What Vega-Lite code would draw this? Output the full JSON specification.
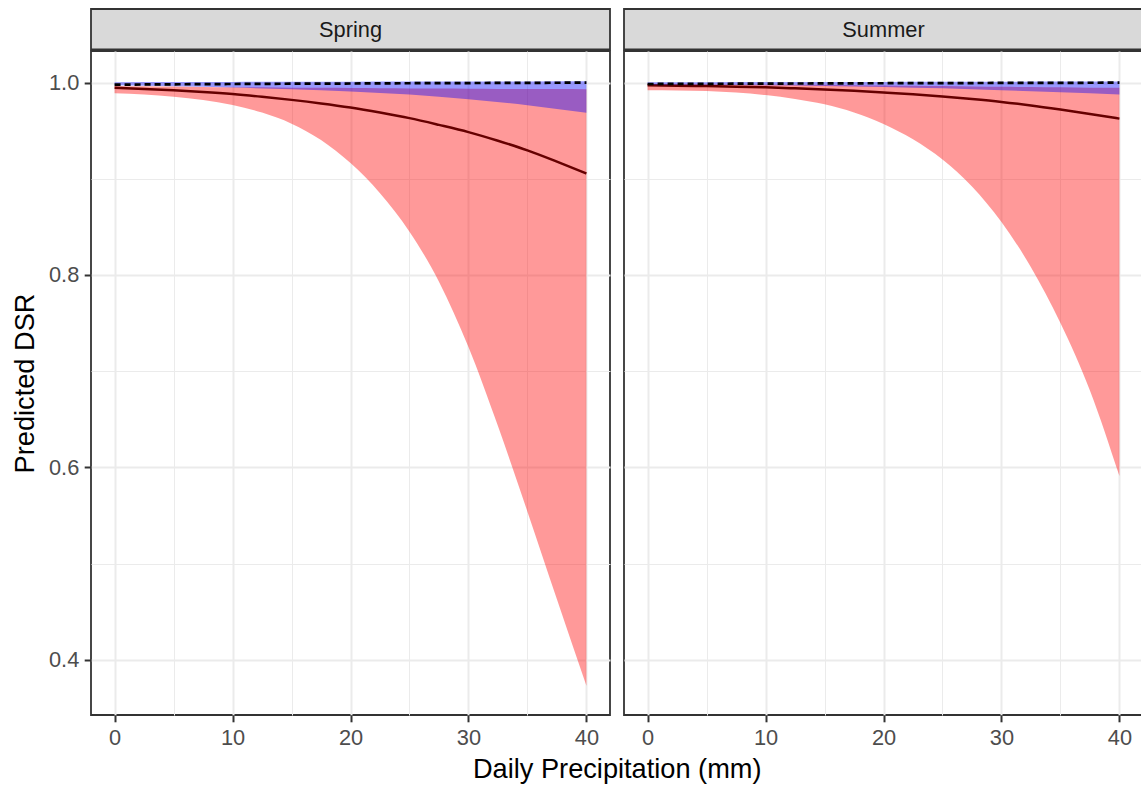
{
  "$schema": "https://vega.github.io/schema/vega-lite/v6.json",
  "background": "white",
  "padding": {"left": 10, "top": 8, "right": 0, "bottom": 0},
  "spacing": 12,
  "title": {"text": "Daily Precipitation (mm)", "orient": "bottom", "anchor": "middle", "frame": "bounds", "dx": 40, "offset": 7, "fontSize": 27.2, "fontWeight": "normal", "font": "Liberation Sans", "color": "#000000"},
  "datasets": {
    "dsr": [
      {"season": "Spring", "model": "A", "d": 0, "lo": 0.9888, "hi": 0.9965, "mean": 0.9945},
      {"season": "Spring", "model": "A", "d": 2.5, "lo": 0.9875, "hi": 0.9962, "mean": 0.9934},
      {"season": "Spring", "model": "A", "d": 5, "lo": 0.9853, "hi": 0.9958, "mean": 0.992},
      {"season": "Spring", "model": "A", "d": 7.5, "lo": 0.9818, "hi": 0.9955, "mean": 0.9902},
      {"season": "Spring", "model": "A", "d": 10, "lo": 0.9766, "hi": 0.9952, "mean": 0.988},
      {"season": "Spring", "model": "A", "d": 12.5, "lo": 0.9688, "hi": 0.995, "mean": 0.9852},
      {"season": "Spring", "model": "A", "d": 15, "lo": 0.9573, "hi": 0.9947, "mean": 0.982},
      {"season": "Spring", "model": "A", "d": 17.5, "lo": 0.9403, "hi": 0.9945, "mean": 0.9783},
      {"season": "Spring", "model": "A", "d": 20, "lo": 0.9163, "hi": 0.9943, "mean": 0.974},
      {"season": "Spring", "model": "A", "d": 22.5, "lo": 0.885, "hi": 0.9941, "mean": 0.9688},
      {"season": "Spring", "model": "A", "d": 25, "lo": 0.845, "hi": 0.9939, "mean": 0.963},
      {"season": "Spring", "model": "A", "d": 27.5, "lo": 0.793, "hi": 0.9937, "mean": 0.956},
      {"season": "Spring", "model": "A", "d": 30, "lo": 0.725, "hi": 0.9935, "mean": 0.9485},
      {"season": "Spring", "model": "A", "d": 32.5, "lo": 0.643, "hi": 0.9934, "mean": 0.9395},
      {"season": "Spring", "model": "A", "d": 35, "lo": 0.554, "hi": 0.9933, "mean": 0.9295},
      {"season": "Spring", "model": "A", "d": 37.5, "lo": 0.463, "hi": 0.9932, "mean": 0.9178},
      {"season": "Spring", "model": "A", "d": 40, "lo": 0.373, "hi": 0.993, "mean": 0.9055},
      {"season": "Spring", "model": "B", "d": 0, "lo": 0.9972, "hi": 1.0003, "mean": 0.9978},
      {"season": "Spring", "model": "B", "d": 5, "lo": 0.9962, "hi": 1.0005, "mean": 0.9982},
      {"season": "Spring", "model": "B", "d": 10, "lo": 0.9948, "hi": 1.0007, "mean": 0.9985},
      {"season": "Spring", "model": "B", "d": 15, "lo": 0.993, "hi": 1.0008, "mean": 0.9988},
      {"season": "Spring", "model": "B", "d": 20, "lo": 0.9908, "hi": 1.0009, "mean": 0.999},
      {"season": "Spring", "model": "B", "d": 25, "lo": 0.9875, "hi": 1.001, "mean": 0.9993},
      {"season": "Spring", "model": "B", "d": 30, "lo": 0.9827, "hi": 1.0011, "mean": 0.9995},
      {"season": "Spring", "model": "B", "d": 35, "lo": 0.9765, "hi": 1.0012, "mean": 0.9997},
      {"season": "Spring", "model": "B", "d": 40, "lo": 0.9685, "hi": 1.0013, "mean": 0.9999},
      {"season": "Summer", "model": "A", "d": 0, "lo": 0.992, "hi": 0.9985, "mean": 0.9972},
      {"season": "Summer", "model": "A", "d": 2.5, "lo": 0.9918, "hi": 0.9984, "mean": 0.9968},
      {"season": "Summer", "model": "A", "d": 5, "lo": 0.9912, "hi": 0.9983, "mean": 0.9963},
      {"season": "Summer", "model": "A", "d": 7.5, "lo": 0.9896, "hi": 0.9981, "mean": 0.9957},
      {"season": "Summer", "model": "A", "d": 10, "lo": 0.987, "hi": 0.998, "mean": 0.995},
      {"season": "Summer", "model": "A", "d": 12.5, "lo": 0.983, "hi": 0.9978, "mean": 0.994},
      {"season": "Summer", "model": "A", "d": 15, "lo": 0.9775, "hi": 0.9976, "mean": 0.9928},
      {"season": "Summer", "model": "A", "d": 17.5, "lo": 0.969, "hi": 0.9973, "mean": 0.9914},
      {"season": "Summer", "model": "A", "d": 20, "lo": 0.957, "hi": 0.997, "mean": 0.9897},
      {"season": "Summer", "model": "A", "d": 22.5, "lo": 0.941, "hi": 0.9967, "mean": 0.9878},
      {"season": "Summer", "model": "A", "d": 25, "lo": 0.92, "hi": 0.9963, "mean": 0.9855},
      {"season": "Summer", "model": "A", "d": 27.5, "lo": 0.892, "hi": 0.996, "mean": 0.9829},
      {"season": "Summer", "model": "A", "d": 30, "lo": 0.855, "hi": 0.9957, "mean": 0.9799},
      {"season": "Summer", "model": "A", "d": 32.5, "lo": 0.808, "hi": 0.9953, "mean": 0.9762},
      {"season": "Summer", "model": "A", "d": 35, "lo": 0.75, "hi": 0.995, "mean": 0.9719},
      {"season": "Summer", "model": "A", "d": 37.5, "lo": 0.68, "hi": 0.9947, "mean": 0.9673},
      {"season": "Summer", "model": "A", "d": 40, "lo": 0.591, "hi": 0.9945, "mean": 0.9625},
      {"season": "Summer", "model": "B", "d": 0, "lo": 0.998, "hi": 1.0003, "mean": 0.9985},
      {"season": "Summer", "model": "B", "d": 5, "lo": 0.9977, "hi": 1.0004, "mean": 0.9987},
      {"season": "Summer", "model": "B", "d": 10, "lo": 0.9972, "hi": 1.0005, "mean": 0.9989},
      {"season": "Summer", "model": "B", "d": 15, "lo": 0.9965, "hi": 1.0006, "mean": 0.9991},
      {"season": "Summer", "model": "B", "d": 20, "lo": 0.9955, "hi": 1.0007, "mean": 0.9993},
      {"season": "Summer", "model": "B", "d": 25, "lo": 0.994, "hi": 1.0008, "mean": 0.9994},
      {"season": "Summer", "model": "B", "d": 30, "lo": 0.992, "hi": 1.0009, "mean": 0.9996},
      {"season": "Summer", "model": "B", "d": 35, "lo": 0.99, "hi": 1.001, "mean": 0.9997},
      {"season": "Summer", "model": "B", "d": 40, "lo": 0.9876, "hi": 1.0011, "mean": 0.9999}
    ]
  },
  "hconcat": [
    {
      "spacing": -3,
      "vconcat": [
        {
          "width": 519,
          "height": 40.5,
          "view": {"fill": "#d9d9d9", "stroke": "#333333", "strokeWidth": 1.8},
          "data": {"values": [{"season": "Spring"}]},
          "mark": {"type": "text", "fontSize": 21.8, "color": "#1a1a1a", "font": "Liberation Sans", "dy": 1},
          "encoding": {"text": {"field": "season"}}
        },
        {
          "width": 519,
          "height": 664,
          "view": {"fill": "white", "stroke": "#333333", "strokeWidth": 1.8},
          "data": {"name": "dsr"},
          "transform": [{"filter": "datum.season === 'Spring'"}],
          "layer": [
            {
              "transform": [{"filter": "datum.model === 'A'"}],
              "mark": {"type": "area", "color": "#ff0000", "opacity": 0.4, "interpolate": "monotone"},
              "encoding": {
                "x": {
                  "field": "d", "type": "quantitative", "title": null,
                  "scale": {"domain": [-2, 42], "nice": false, "zero": false},
                  "axis": {
                    "values": [0, 5, 10, 15, 20, 25, 30, 35, 40],
                    "labelExpr": "datum.value % 10 === 0 ? datum.label : ''",
                    "gridWidth": {"condition": {"test": "datum.value % 10 === 0", "value": 2}, "value": 1},
                    "tickColor": {"condition": {"test": "datum.value % 10 === 0", "value": "#333333"}, "value": "transparent"}
                  }
                },
                "y": {
                  "field": "lo", "type": "quantitative", "title": "Predicted DSR",
                  "scale": {"domain": [0.3426, 1.0328], "nice": false, "zero": false},
                  "axis": {
                    "values": [0.4, 0.5, 0.6, 0.7, 0.8, 0.9, 1.0],
                    "titlePadding": 9,
                    "labelExpr": "round(datum.value * 10) % 2 === 0 ? format(datum.value, '.1f') : ''",
                    "gridWidth": {"condition": {"test": "round(datum.value * 10) % 2 === 0", "value": 2}, "value": 1},
                    "tickColor": {"condition": {"test": "round(datum.value * 10) % 2 === 0", "value": "#333333"}, "value": "transparent"}
                  }
                },
                "y2": {"field": "hi"}
              }
            },
            {
              "transform": [{"filter": "datum.model === 'A'"}],
              "mark": {"type": "line", "color": "#660000", "strokeWidth": 2.5, "interpolate": "monotone"},
              "encoding": {
                "x": {"field": "d", "type": "quantitative", "title": null},
                "y": {"field": "mean", "type": "quantitative", "title": "Predicted DSR"}
              }
            },
            {
              "transform": [{"filter": "datum.model === 'B'"}],
              "mark": {"type": "area", "color": "#0000ff", "opacity": 0.4, "interpolate": "monotone"},
              "encoding": {
                "x": {"field": "d", "type": "quantitative", "title": null},
                "y": {"field": "lo", "type": "quantitative", "title": "Predicted DSR"},
                "y2": {"field": "hi"}
              }
            },
            {
              "transform": [{"filter": "datum.model === 'B'"}],
              "mark": {"type": "line", "color": "#000000", "strokeWidth": 2.7, "strokeDash": [6, 4], "interpolate": "monotone"},
              "encoding": {
                "x": {"field": "d", "type": "quantitative", "title": null},
                "y": {"field": "mean", "type": "quantitative", "title": "Predicted DSR"}
              }
            }
          ]
        }
      ]
    },
    {
      "spacing": -3,
      "vconcat": [
        {
          "width": 519,
          "height": 40.5,
          "view": {"fill": "#d9d9d9", "stroke": "#333333", "strokeWidth": 1.8},
          "data": {"values": [{"season": "Summer"}]},
          "mark": {"type": "text", "fontSize": 21.8, "color": "#1a1a1a", "font": "Liberation Sans", "dy": 1},
          "encoding": {"text": {"field": "season"}}
        },
        {
          "width": 519,
          "height": 664,
          "view": {"fill": "white", "stroke": "#333333", "strokeWidth": 1.8},
          "data": {"name": "dsr"},
          "transform": [{"filter": "datum.season === 'Summer'"}],
          "layer": [
            {
              "transform": [{"filter": "datum.model === 'A'"}],
              "mark": {"type": "area", "color": "#ff0000", "opacity": 0.4, "interpolate": "monotone"},
              "encoding": {
                "x": {
                  "field": "d", "type": "quantitative", "title": null,
                  "scale": {"domain": [-2, 42], "nice": false, "zero": false},
                  "axis": {
                    "values": [0, 5, 10, 15, 20, 25, 30, 35, 40],
                    "labelExpr": "datum.value % 10 === 0 ? datum.label : ''",
                    "gridWidth": {"condition": {"test": "datum.value % 10 === 0", "value": 2}, "value": 1},
                    "tickColor": {"condition": {"test": "datum.value % 10 === 0", "value": "#333333"}, "value": "transparent"}
                  }
                },
                "y": {
                  "field": "lo", "type": "quantitative", "title": null,
                  "scale": {"domain": [0.3426, 1.0328], "nice": false, "zero": false},
                  "axis": {
                    "values": [0.4, 0.5, 0.6, 0.7, 0.8, 0.9, 1.0],
                    "labels": false,
                    "ticks": false,
                    "gridWidth": {"condition": {"test": "round(datum.value * 10) % 2 === 0", "value": 2}, "value": 1}
                  }
                },
                "y2": {"field": "hi"}
              }
            },
            {
              "transform": [{"filter": "datum.model === 'A'"}],
              "mark": {"type": "line", "color": "#660000", "strokeWidth": 2.5, "interpolate": "monotone"},
              "encoding": {
                "x": {"field": "d", "type": "quantitative", "title": null},
                "y": {"field": "mean", "type": "quantitative", "title": null}
              }
            },
            {
              "transform": [{"filter": "datum.model === 'B'"}],
              "mark": {"type": "area", "color": "#0000ff", "opacity": 0.4, "interpolate": "monotone"},
              "encoding": {
                "x": {"field": "d", "type": "quantitative", "title": null},
                "y": {"field": "lo", "type": "quantitative", "title": null},
                "y2": {"field": "hi"}
              }
            },
            {
              "transform": [{"filter": "datum.model === 'B'"}],
              "mark": {"type": "line", "color": "#000000", "strokeWidth": 2.7, "strokeDash": [6, 4], "interpolate": "monotone"},
              "encoding": {
                "x": {"field": "d", "type": "quantitative", "title": null},
                "y": {"field": "mean", "type": "quantitative", "title": null}
              }
            }
          ]
        }
      ]
    }
  ],
  "config": {
    "font": "Liberation Sans",
    "view": {"stroke": "#333333", "strokeWidth": 1.8},
    "axis": {
      "domain": false,
      "gridColor": "#ebebeb",
      "tickColor": "#333333",
      "tickSize": 6.8,
      "tickWidth": 2,
      "labelFont": "Liberation Sans",
      "labelFontSize": 21.8,
      "labelColor": "#4d4d4d",
      "labelPadding": 5.4,
      "labelFlush": false,
      "titleFont": "Liberation Sans",
      "titleFontSize": 27.2,
      "titleFontWeight": "normal",
      "titleColor": "#000000",
      "titlePadding": 7
    }
  }
}
